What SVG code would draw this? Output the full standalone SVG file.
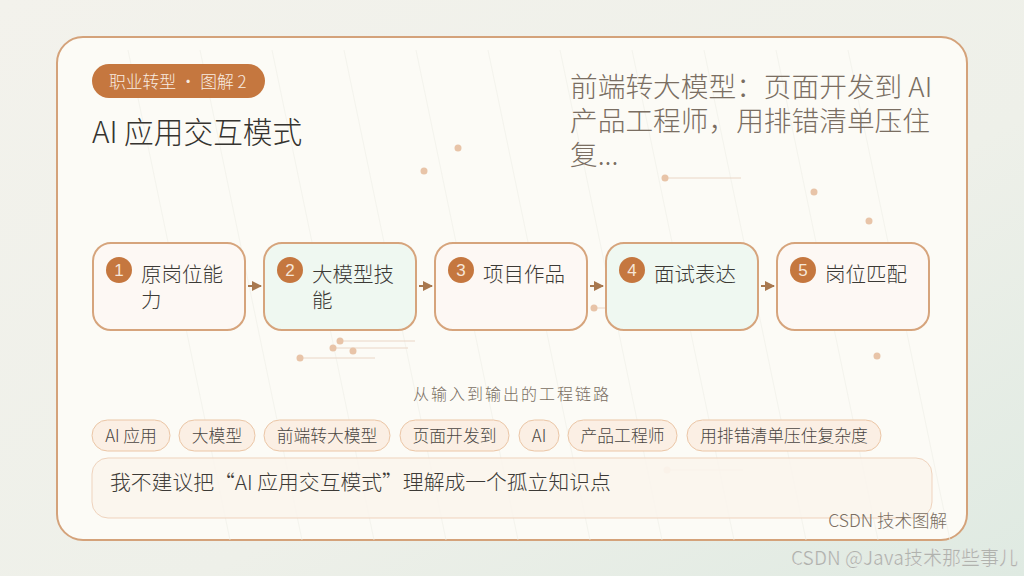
<svg xmlns="http://www.w3.org/2000/svg" width="1024" height="576" viewBox="0 0 1024 576">
<defs>
<linearGradient id="bg" x1="0" y1="0" x2="1" y2="1">
<stop offset="0" stop-color="#f3f2ec"/>
<stop offset="0.6" stop-color="#eef0e9"/>
<stop offset="1" stop-color="#dfeae2"/>
</linearGradient>
<marker id="arr" viewBox="0 0 10 10" refX="9" refY="5" markerWidth="5" markerHeight="5" orient="auto">
<path d="M0,0 L10,5 L0,10 z" fill="#a8784f"/>
</marker>
<style>
.node rect.box{stroke:#d6a47c;stroke-width:2}
.warm{fill:#fdf8f4}
.mint{fill:#eff8f1}
.num{fill:#c5773f}
.numt{font-family:"Liberation Sans","Noto Sans CJK SC",sans-serif;font-size:17px;fill:#f6e6d8;text-anchor:middle}
.lbl{font-family:"Noto Sans CJK SC",sans-serif;font-weight:300;font-size:20.5px;fill:#3c3a36}
.tag rect{fill:#fbefe4;stroke:#ebc6a6;stroke-width:1}
.tag text{font-family:"Noto Sans CJK SC",sans-serif;font-weight:300;font-size:16.8px;fill:#4a4642;text-anchor:middle}
.deco{fill:#e8c4a8}
.decol{stroke:#ead6c6;stroke-width:1}
.conn{stroke:#a8784f;stroke-width:2;fill:none}
</style>
</defs>
<rect width="1024" height="576" fill="url(#bg)"/>
<rect x="57" y="37" width="910" height="503" rx="26" fill="#fcfbf6" stroke="#d4a27a" stroke-width="2"/>
<g stroke="#f1f1ea" stroke-width="1" opacity="0.7">
<line x1="128" y1="50" x2="230" y2="540"/>
<line x1="200" y1="50" x2="302" y2="540"/>
<line x1="272" y1="50" x2="374" y2="540"/>
<line x1="344" y1="50" x2="446" y2="540"/>
<line x1="416" y1="50" x2="518" y2="540"/>
<line x1="488" y1="50" x2="590" y2="540"/>
<line x1="560" y1="50" x2="662" y2="540"/>
<line x1="632" y1="50" x2="734" y2="540"/>
<line x1="704" y1="50" x2="806" y2="540"/>
<line x1="776" y1="50" x2="878" y2="540"/>
<line x1="848" y1="50" x2="950" y2="540"/>
</g>
<g id="decor">
<circle class="deco" cx="458" cy="148" r="3.5"/>
<circle class="deco" cx="424" cy="171" r="3.5"/>
<line class="decol" x1="665" y1="178" x2="741" y2="178"/>
<circle class="deco" cx="665" cy="178" r="3.5"/>
<circle class="deco" cx="814" cy="192" r="3.5"/>
<circle class="deco" cx="869" cy="221" r="3.5"/>
<circle class="deco" cx="877" cy="356" r="3.5"/>
<line class="decol" x1="340" y1="341" x2="415" y2="341"/>
<line class="decol" x1="333" y1="348" x2="408" y2="348"/>
<line class="decol" x1="300" y1="358" x2="375" y2="358"/>
<circle class="deco" cx="340" cy="341" r="3.5"/>
<circle class="deco" cx="333" cy="348" r="3.5"/>
<circle class="deco" cx="353" cy="351" r="3.5"/>
<circle class="deco" cx="300" cy="358" r="3.5"/>
<line class="decol" x1="594" y1="308" x2="606" y2="308"/>
<circle class="deco" cx="594" cy="308" r="3.5"/>
<line x1="667" y1="470" x2="743" y2="470" stroke="#f2e4d8" stroke-width="1"/>
<circle cx="667" cy="470" r="3.5" fill="#f3e3d6"/>
</g>
<g id="header">
<rect x="92" y="64" width="173" height="34" rx="17" fill="#c5773f"/>
<text x="109" y="88" font-family="Noto Sans CJK SC, sans-serif" font-weight="300" font-size="16.8" fill="#f8ece2">职业转型 · 图解 2</text>
<text x="92" y="143" font-family="Noto Sans CJK SC, sans-serif" font-weight="300" font-size="29.7" fill="#35332f">AI 应用交互模式</text>
<g font-family="Noto Sans CJK SC, sans-serif" font-weight="300" font-size="27.7" fill="#7a6e62">
<text x="570" y="97">前端转大模型：页面开发到 AI</text>
<text x="570" y="131">产品工程师，用排错清单压住</text>
<text x="570" y="165">复...</text>
</g>
</g>
<g id="connectors">
<line class="conn" x1="248" y1="286" x2="261" y2="286" marker-end="url(#arr)"/>
<line class="conn" x1="419" y1="286" x2="432" y2="286" marker-end="url(#arr)"/>
<line class="conn" x1="590" y1="286" x2="603" y2="286" marker-end="url(#arr)"/>
<line class="conn" x1="761" y1="286" x2="774" y2="286" marker-end="url(#arr)"/>
</g>
<g id="node1" class="node">
<rect class="box warm" x="93" y="243" width="152" height="87" rx="18"/>
<circle class="num" cx="119" cy="270" r="13"/>
<text class="numt" x="119" y="276">1</text>
<text class="lbl" x="141" y="282">原岗位能</text>
<text class="lbl" x="141" y="308">力</text>
</g>
<g id="node2" class="node">
<rect class="box mint" x="264" y="243" width="152" height="87" rx="18"/>
<circle class="num" cx="290" cy="270" r="13"/>
<text class="numt" x="290" y="276">2</text>
<text class="lbl" x="312" y="282">大模型技</text>
<text class="lbl" x="312" y="308">能</text>
</g>
<g id="node3" class="node">
<rect class="box warm" x="435" y="243" width="152" height="87" rx="18"/>
<circle class="num" cx="461" cy="270" r="13"/>
<text class="numt" x="461" y="276">3</text>
<text class="lbl" x="483" y="282">项目作品</text>
</g>
<g id="node4" class="node">
<rect class="box mint" x="606" y="243" width="152" height="87" rx="18"/>
<circle class="num" cx="632" cy="270" r="13"/>
<text class="numt" x="632" y="276">4</text>
<text class="lbl" x="654" y="282">面试表达</text>
</g>
<g id="node5" class="node">
<rect class="box warm" x="777" y="243" width="152" height="87" rx="18"/>
<circle class="num" cx="803" cy="270" r="13"/>
<text class="numt" x="803" y="276">5</text>
<text class="lbl" x="825" y="282">岗位匹配</text>
</g>
<text x="512" y="400" text-anchor="middle" font-family="Noto Sans CJK SC, sans-serif" font-weight="300" font-size="16" letter-spacing="2" fill="#7a6e62">从输入到输出的工程链路</text>
<g id="tags">
<g class="tag"><rect x="92" y="420" width="78" height="31" rx="15.5"/><text x="131" y="442">AI 应用</text></g>
<g class="tag"><rect x="179" y="420" width="76" height="31" rx="15.5"/><text x="217" y="442">大模型</text></g>
<g class="tag"><rect x="264" y="420" width="126" height="31" rx="15.5"/><text x="327" y="442">前端转大模型</text></g>
<g class="tag"><rect x="400" y="420" width="109" height="31" rx="15.5"/><text x="454.5" y="442">页面开发到</text></g>
<g class="tag"><rect x="519" y="420" width="40" height="31" rx="15.5"/><text x="539" y="442">AI</text></g>
<g class="tag"><rect x="568" y="420" width="109" height="31" rx="15.5"/><text x="622.5" y="442">产品工程师</text></g>
<g class="tag"><rect x="687" y="420" width="194" height="31" rx="15.5"/><text x="784" y="442">用排错清单压住复杂度</text></g>
</g>
<g id="note">
<rect x="92" y="458" width="840" height="60" rx="16" fill="#faf4ec" fill-opacity="0.85" stroke="#efd3bd" stroke-width="1"/>
<text x="110" y="490" font-family="Noto Sans CJK SC, sans-serif" font-weight="300" font-size="20.8" fill="#3c3a36">我不建议把“AI 应用交互模式”理解成一个孤立知识点</text>
</g>
<text x="947" y="527" text-anchor="end" font-family="Noto Sans CJK SC, sans-serif" font-weight="300" font-size="17.5" fill="#7a6e62">CSDN 技术图解</text>
<text x="1018" y="565" text-anchor="end" font-family="Noto Sans CJK SC, sans-serif" font-size="19" fill="#b0b2ad" stroke="#ffffff" stroke-width="0.2">CSDN @Java技术那些事儿</text>
</svg>
